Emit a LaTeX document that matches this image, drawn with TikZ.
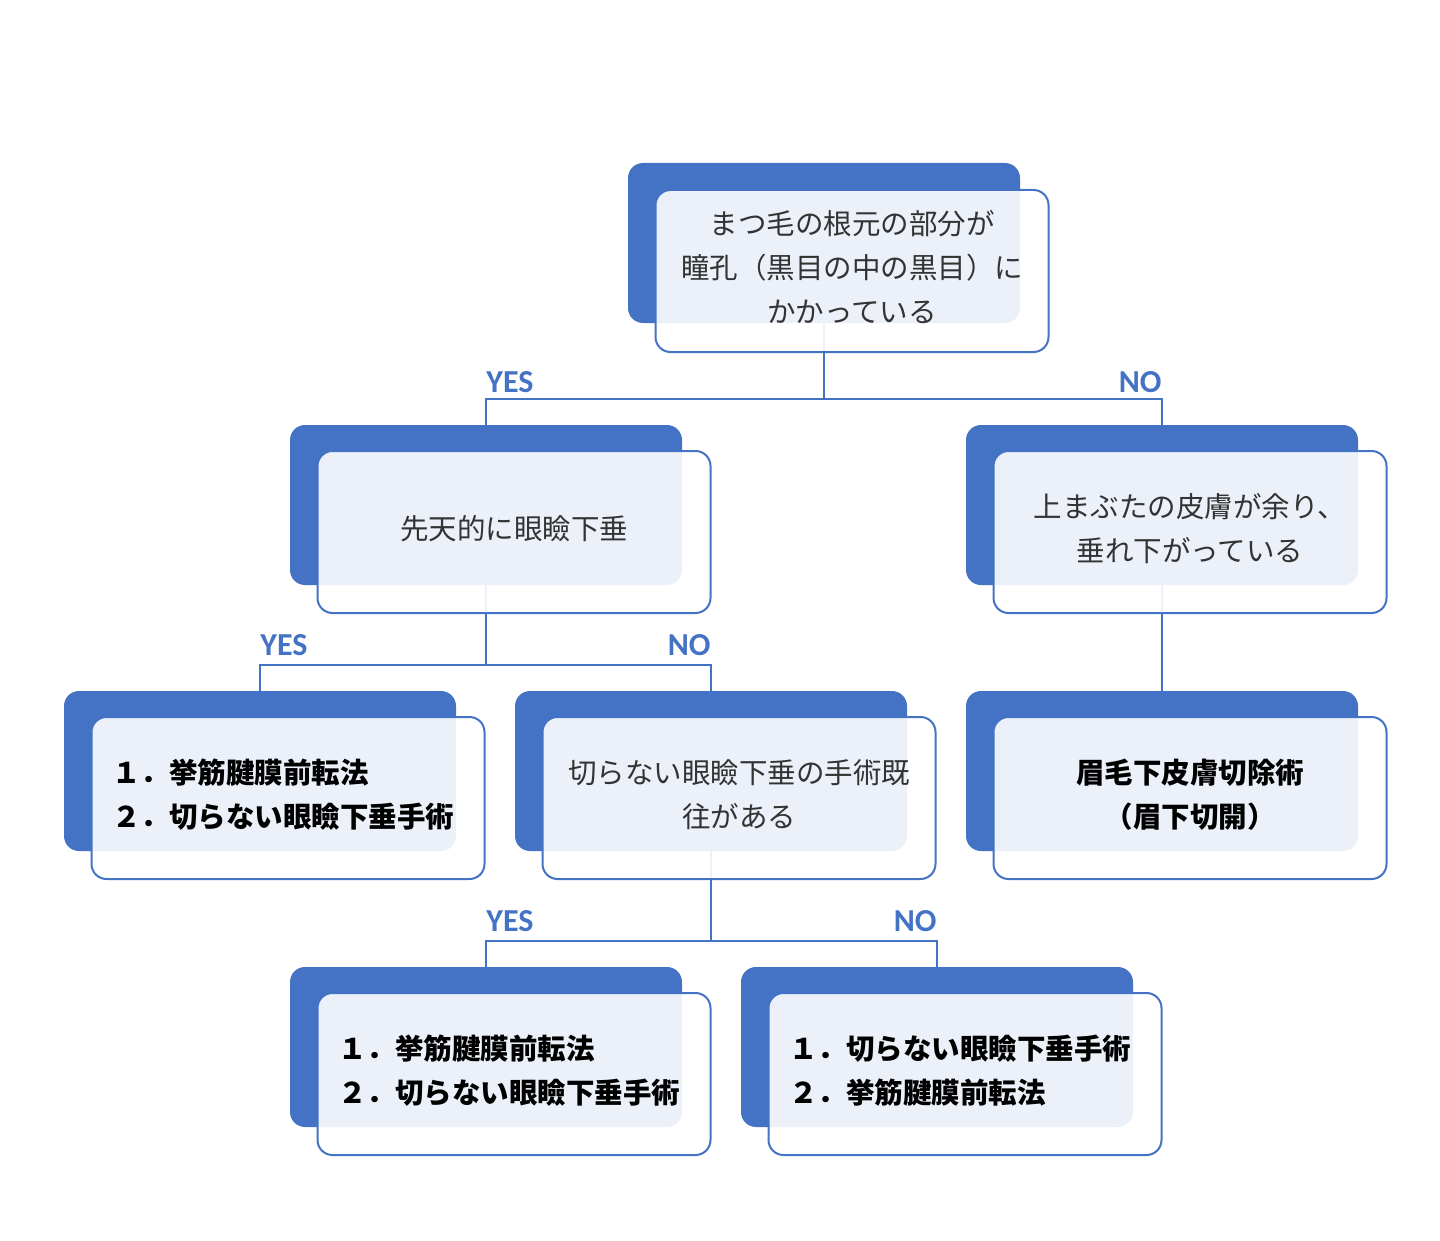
\documentclass[tikz,border=0pt]{standalone}
\usepackage{fontspec}
\newfontfamily\jp{Noto Sans CJK JP}
\newfontfamily\lab{Carlito}
\definecolor{mblue}{HTML}{4472C4}
\pgfdeclarelayer{background}
\pgfsetlayers{background,main}
\begin{document}
\begin{tikzpicture}[x=0.5pt,y=-0.5pt,
 back/.style={fill=mblue, rounded corners=7.5pt, minimum width=196pt, minimum height=80pt, inner sep=0pt},
 front/.style={draw=mblue, line width=1pt, fill=white, fill opacity=0.9, rounded corners=7.5pt, minimum width=196.5pt, minimum height=81pt, inner sep=0pt},
 txt/.style={font=\jp\fontsize{14.25}{22}\selectfont, text=black!80, align=center, inner sep=0pt},
 btxt/.style={font=\jp\bfseries\fontsize{14.25}{22}\selectfont, text=black, align=left, text width=176pt, inner sep=0pt},
 btxtc/.style={font=\jp\bfseries\fontsize{14.25}{22}\selectfont, text=black, align=center, inner sep=0pt},
 conn/.style={draw=mblue, line width=0.8pt},
 yn/.style={font=\lab\bfseries\fontsize{16}{18}\selectfont, text=mblue, inner sep=0pt}]
\useasboundingbox (0,0) rectangle (1440,1241);
% back boxes
\node[back] (b1) at (824,243) {};
\node[back] (b2) at (486,505) {};
\node[back] (b3) at (1162,505) {};
\node[back] (b4) at (260,771) {};
\node[back] (b5) at (711,771) {};
\node[back] (b6) at (1162,771) {};
\node[back] (b7) at (486,1047) {};
\node[back] (b8) at (937,1047) {};
% front boxes
\node[front] (f1) at (852,271) {};
\node[front] (f2) at (514,532) {};
\node[front] (f3) at (1190,532) {};
\node[front] (f4) at (288,798) {};
\node[front] (f5) at (739,798) {};
\node[front] (f6) at (1190,798) {};
\node[front] (f7) at (514,1074) {};
\node[front] (f8) at (965,1074) {};
% texts
\node[txt] (t1) at ([yshift=2pt]f1.center) {まつ毛の根元の部分が\\瞳孔（黒目の中の黒目）に\\かかっている};
\node[txt] (t2) at ([yshift=1.5pt]f2.center) {先天的に眼瞼下垂};
\node[txt] (t3) at ([yshift=1.5pt]f3.center) {上まぶたの皮膚が余り、\\垂れ下がっている};
\node[btxt] (t4) at ([yshift=1.5pt]f4.center) {１．挙筋腱膜前転法\\２．切らない眼瞼下垂手術};
\node[txt] (t5) at ([yshift=1.5pt]f5.center) {切らない眼瞼下垂の手術既\\往がある};
\node[btxtc] (t6) at ([yshift=1.5pt]f6.center) {眉毛下皮膚切除術\\（眉下切開）};
\node[btxt] (t7) at ([yshift=1.5pt]f7.center) {１．挙筋腱膜前転法\\２．切らない眼瞼下垂手術};
\node[btxt] (t8) at ([yshift=1.5pt]f8.center) {１．切らない眼瞼下垂手術\\２．挙筋腱膜前転法};
% junctions
\coordinate (j1) at (824,399);
\coordinate (j2) at (486,665);
\coordinate (j3) at (711,941);
\begin{pgfonlayer}{background}
\draw[conn] (b1.center) -- (j1) -| (b2.north);
\draw[conn] (j1) -| (b3.north);
\draw[conn] (b2.center) -- (j2) -| (b4.north);
\draw[conn] (j2) -| (b5.north);
\draw[conn] (b3.center) -- (b6.north);
\draw[conn] (b5.center) -- (j3) -| (b7.north);
\draw[conn] (j3) -| (b8.north);
\end{pgfonlayer}
% labels
\node[yn,anchor=base west] (y1) at (486,392) {YES};
\node[yn,anchor=base east] (n1) at (1162,392) {NO};
\node[yn,anchor=base west] (y2) at (260,655) {YES};
\node[yn,anchor=base east] (n2) at (711,655) {NO};
\node[yn,anchor=base west] (y3) at (486,931) {YES};
\node[yn,anchor=base east] (n3) at (937,931) {NO};
\end{tikzpicture}
\end{document}
